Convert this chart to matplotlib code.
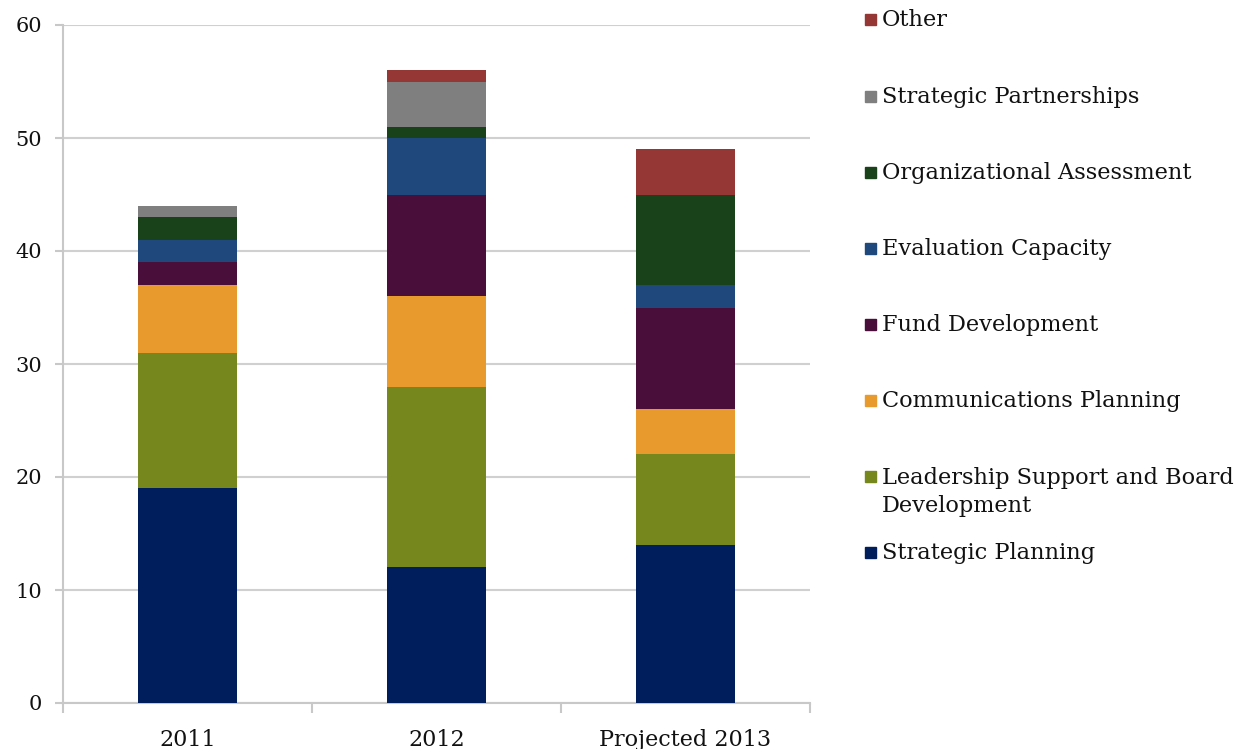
import numpy as np
import matplotlib.pyplot as plt

years = ["2011", "2012", "Projected 2013"]

categories = [
    "Strategic Planning",
    "Leadership Support and Board\nDevelopment",
    "Communications Planning",
    "Fund Development",
    "Evaluation Capacity",
    "Organizational Assessment",
    "Strategic Partnerships",
    "Other",
]

strategic_planning = [19, 12, 14]
leadership_board = [12, 16, 8]
communications = [6, 8, 4]
fund_development = [2, 9, 9]
evaluation = [2, 5, 2]
org_assessment = [2, 1, 8]
partnerships = [1, 4, 0]
other = [0, 1, 4]

series = [
    strategic_planning,
    leadership_board,
    communications,
    fund_development,
    evaluation,
    org_assessment,
    partnerships,
    other,
]

colors = [
    "#001D5C",
    "#76871D",
    "#E99A2C",
    "#4A0E3A",
    "#1F497D",
    "#19421A",
    "#7F7F7F",
    "#953735",
]

plt.rcParams["font.family"] = ["DejaVu Serif"]

fig = plt.figure(figsize=(12.49, 7.49), dpi=100)
ax = fig.add_axes([63 / 1249, 1 - 703 / 749, 747 / 1249, 678 / 749])

x = np.arange(len(years))
bottom = np.zeros(len(years))
for vals, color in zip(series, colors):
    ax.bar(x, vals, width=0.4, bottom=bottom, color=color, zorder=3)
    bottom += np.array(vals)

ax.set_xlim(-0.5, len(years) - 0.5)
ax.set_ylim(0, 60)
ax.set_yticks(range(0, 61, 10))
ax.yaxis.grid(True, color="#D0D0D0", linewidth=1.5, zorder=0)

for side in ["top", "right"]:
    ax.spines[side].set_visible(False)
for side in ["left", "bottom"]:
    ax.spines[side].set_color("#C8C8C8")
    ax.spines[side].set_linewidth(1.5)

# category boundary ticks under the x axis
ax.set_xticks(np.arange(-0.5, len(years)), minor=True)
ax.set_xticks(x)
ax.set_xticklabels(years)
ax.tick_params(axis="x", which="major", length=0, pad=19, labelsize=16,
               labelcolor="#111111")
ax.tick_params(axis="x", which="minor", length=7, color="#C8C8C8", width=1.5)
ax.tick_params(axis="y", length=6, color="#C8C8C8", width=1.5, labelsize=15,
               pad=9, labelcolor="#111111")

# legend, top entry first
slot_px = [20, 97, 173, 249, 325, 401, 492, 553]
for i, (label, color) in enumerate(zip(categories[::-1], colors[::-1])):
    yp = 1 - slot_px[i] / 749
    lines = label.split("\n")
    marker_y = yp if len(lines) == 1 else yp + 15 / 749
    fig.patches.append(
        plt.Rectangle((865 / 1249, marker_y - 5 / 749), 11 / 1249, 11 / 749,
                      transform=fig.transFigure, color=color, figure=fig)
    )
    fig.text(882 / 1249, yp, label, fontsize=16.2, va="center", ha="left",
             color="#111111", linespacing=1.3)

fig.savefig("out.png", dpi=100)
